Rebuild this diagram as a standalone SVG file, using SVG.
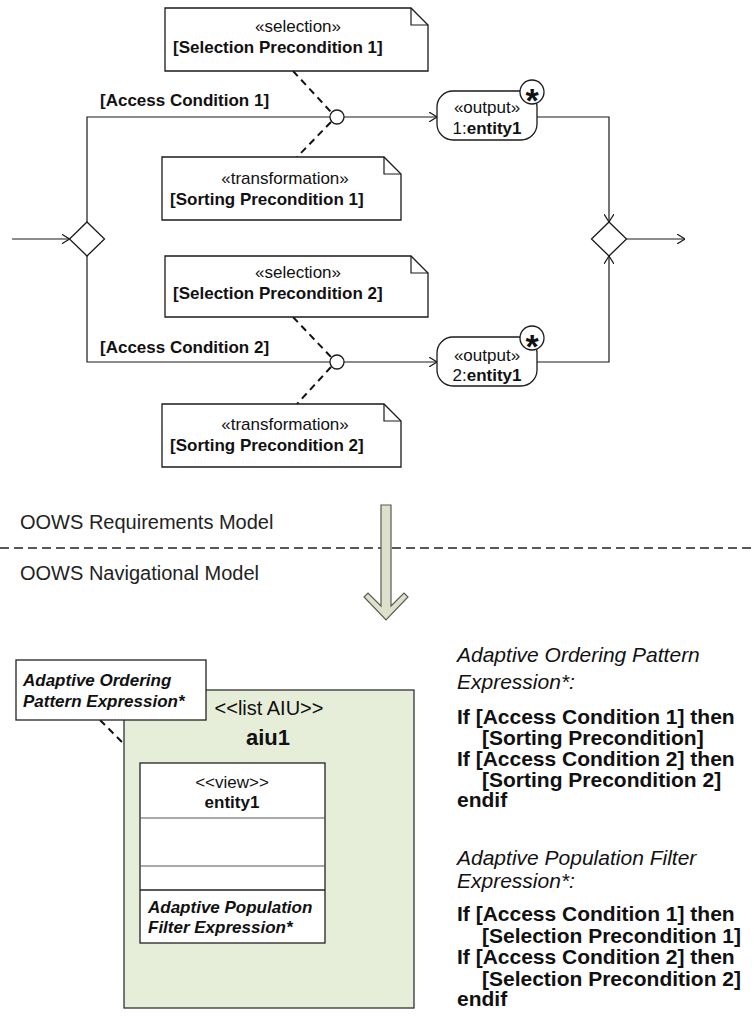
<svg xmlns="http://www.w3.org/2000/svg" width="754" height="1027" viewBox="0 0 754 1027">
<style>
.ln{stroke:#1a1a1a;stroke-width:1.2;fill:none}
.shape{fill:#fff;stroke:#1a1a1a;stroke-width:1.3}
.dash{stroke:#111;stroke-width:2;stroke-dasharray:7 5;fill:none}
.t{font-family:"Liberation Sans",Arial,sans-serif;font-size:17px;fill:#111}
.b{font-weight:bold}
.i{font-style:italic}
.c{text-anchor:middle}
.big{font-size:21px}
.lbl{font-size:20px;fill:#222}
.star{font-size:34px;font-weight:bold;text-anchor:middle}
</style>
<defs>
<marker id="open" viewBox="0 0 8 10" markerWidth="8" markerHeight="10" refX="8" refY="5" orient="auto" markerUnits="userSpaceOnUse">
<path d="M0,0 L8,5 L0,10" fill="none" stroke="#1a1a1a" stroke-width="1.2"/>
</marker>
</defs>

<g id="connectors">
<line class="ln" x1="12" y1="239" x2="69.5" y2="239" marker-end="url(#open)"/>
<polyline class="ln" points="87,222 87,117 330,117"/>
<line class="ln" x1="344" y1="117" x2="437" y2="117" marker-end="url(#open)"/>
<polyline class="ln" points="87,256 87,362 330,362"/>
<line class="ln" x1="344" y1="362" x2="437" y2="362" marker-end="url(#open)"/>
<polyline class="ln" points="537,117 609,117 609,222" marker-end="url(#open)"/>
<polyline class="ln" points="537,362 609,362 609,256" marker-end="url(#open)"/>
<line class="ln" x1="626.5" y1="239" x2="685" y2="239" marker-end="url(#open)"/>
<line class="dash" x1="293" y1="71" x2="331" y2="112"/>
<line class="dash" x1="331" y1="122" x2="297" y2="157"/>
<line class="dash" x1="293" y1="317" x2="331" y2="357"/>
<line class="dash" x1="331" y1="367" x2="297" y2="404"/>
<line class="dash" x1="100" y1="720" x2="143" y2="763"/>
</g>

<g id="guard-label-1"><text class="t b" x="100" y="106">[Access Condition 1]</text></g>
<g id="guard-label-2"><text class="t b" x="100" y="353">[Access Condition 2]</text></g>

<g id="decision"><path class="shape" d="M87,222 L104.5,239 L87,256 L69.5,239 Z"/></g>
<g id="merge"><path class="shape" d="M609,222 L626.5,239 L609,256 L591.5,239 Z"/></g>

<g id="junction-1"><circle class="shape" cx="337" cy="117" r="7"/></g>
<g id="junction-2"><circle class="shape" cx="337" cy="362" r="7"/></g>

<g id="note-selection-1">
<path class="shape" d="M165,8 H411 L428,25 V71 H165 Z"/>
<path class="ln" d="M411,8 V25 H428"/>
<text class="t c" x="298" y="32">«selection»</text>
<text class="t b" x="173" y="53">[Selection Precondition 1]</text>
</g>
<g id="note-transformation-1">
<path class="shape" d="M162,157 H384 L401,174 V220 H162 Z"/>
<path class="ln" d="M384,157 V174 H401"/>
<text class="t c" x="285" y="184">«transformation»</text>
<text class="t b" x="170" y="205">[Sorting Precondition 1]</text>
</g>
<g id="note-selection-2">
<path class="shape" d="M165,256 H411 L428,273 V317 H165 Z"/>
<path class="ln" d="M411,256 V273 H428"/>
<text class="t c" x="298" y="278">«selection»</text>
<text class="t b" x="173" y="299">[Selection Precondition 2]</text>
</g>
<g id="note-transformation-2">
<path class="shape" d="M162,404 H384 L401,421 V467 H162 Z"/>
<path class="ln" d="M384,404 V421 H401"/>
<text class="t c" x="285" y="430">«transformation»</text>
<text class="t b" x="170" y="451">[Sorting Precondition 2]</text>
</g>

<g id="output-1">
<rect class="shape" x="437" y="91" width="100" height="49" rx="16"/>
<text class="t c" x="487" y="113">«output»</text>
<text class="t c" x="487" y="134">1:<tspan class="b">entity1</tspan></text>
<circle class="shape" cx="532" cy="92" r="12"/>
<text class="t star" x="532" y="112">*</text>
</g>
<g id="output-2">
<rect class="shape" x="437" y="337" width="100" height="49" rx="16"/>
<text class="t c" x="487" y="361">«output»</text>
<text class="t c" x="487" y="381">2:<tspan class="b">entity1</tspan></text>
<circle class="shape" cx="532" cy="338" r="12"/>
<text class="t star" x="532" y="358">*</text>
</g>

<g id="model-separator">
<text class="t lbl" x="20" y="529">OOWS Requirements Model</text>
<line x1="0" y1="548" x2="754" y2="548" stroke="#222" stroke-width="1.5" stroke-dasharray="9 5"/>
<text class="t lbl" x="20" y="580">OOWS Navigational Model</text>
</g>

<g id="transform-arrow">
<path d="M381,505 H391 V606 L404,593 L408,597 L386,620 L364,597 L368,593 L381,606 Z" fill="#dde1cc" stroke="#5a5a50" stroke-width="1.2"/>
</g>

<g id="aiu1">
<rect x="124" y="690" width="290" height="318" fill="#e6eed9" stroke="#333" stroke-width="1.3"/>
<text class="t c" x="269" y="715" style="font-size:20px">&lt;&lt;list AIU&gt;&gt;</text>
<text class="t b c" x="268" y="745" style="font-size:22px">aiu1</text>
</g>

<g id="view-entity1">
<rect x="140" y="763" width="185" height="180" fill="#fff" stroke="#222" stroke-width="1.3"/>
<line x1="140" y1="818" x2="325" y2="818" stroke="#555" stroke-width="1"/>
<line x1="140" y1="866" x2="325" y2="866" stroke="#555" stroke-width="1"/>
<line x1="140" y1="890" x2="325" y2="890" stroke="#222" stroke-width="1.6"/>
<text class="t c" x="232" y="788">&lt;&lt;view&gt;&gt;</text>
<text class="t b c" x="232" y="808">entity1</text>
<text class="t b i" x="148" y="913">Adaptive Population</text>
<text class="t b i" x="148" y="933">Filter Expression*</text>
</g>

<g id="note-ordering">
<rect x="16" y="660" width="190" height="60" fill="#fff" stroke="#222" stroke-width="1.3"/>
<text class="t b i" x="23" y="686">Adaptive Ordering</text>
<text class="t b i" x="23" y="707">Pattern Expression*</text>
</g>

<g id="ordering-expression">
<text class="t big i" x="457" y="662">Adaptive Ordering Pattern</text>
<text class="t big i" x="457" y="689">Expression*:</text>
<text class="t big b" x="457" y="724">If [Access Condition 1] then</text>
<text class="t big b" x="482" y="745">[Sorting Precondition]</text>
<text class="t big b" x="457" y="766">If [Access Condition 2] then</text>
<text class="t big b" x="482" y="787">[Sorting Precondition 2]</text>
<text class="t big b" x="457" y="807">endif</text>
</g>

<g id="filter-expression">
<text class="t big i" x="457" y="865">Adaptive Population Filter</text>
<text class="t big i" x="457" y="888">Expression*:</text>
<text class="t big b" x="457" y="921">If [Access Condition 1] then</text>
<text class="t big b" x="482" y="943">[Selection Precondition 1]</text>
<text class="t big b" x="457" y="964">If [Access Condition 2] then</text>
<text class="t big b" x="482" y="986">[Selection Precondition 2]</text>
<text class="t big b" x="457" y="1006">endif</text>
</g>
</svg>
